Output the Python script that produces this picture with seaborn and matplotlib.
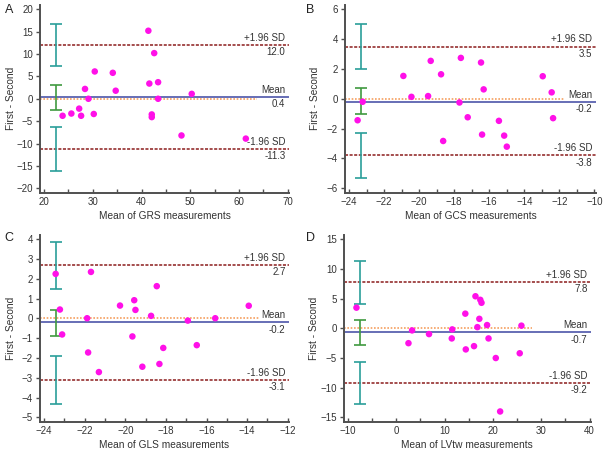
import numpy as np
import pandas as pd
import matplotlib
matplotlib.use("Agg")
import matplotlib.pyplot as plt
import matplotlib.transforms as mtransforms
from matplotlib.ticker import MultipleLocator
import seaborn as sns

sns.set_style("ticks")
plt.rcParams['font.family'] = ['Liberation Sans', 'DejaVu Sans']

# panel A - GRS
grs_mean = [23.8, 25.6, 27.2, 27.6, 28.4, 29.1, 30.2, 30.4, 34.1, 34.7,
            41.4, 41.6, 42.6, 42.1, 42.1, 43.4, 43.4, 48.2, 50.3, 61.4]
grs_diff = [-3.8, -3.3, -2.2, -3.8, 2.2, 0.0, -3.4, 6.1, 5.8, 1.8,
            15.2, 3.4, 10.2, -3.5, -4.1, 3.7, 0.0, -8.2, 1.1, -8.9]
grs_stats = [0.4, 12.0, -11.3]
grs_ci = [(7.3, 16.8), (-2.4, 3.1), (-16.1, -6.4)]

# panel B - GCS
gcs_mean = [-23.51, -23.22, -20.90, -20.44, -19.49, -19.34, -18.75, -18.63, -17.70, -17.62,
            -17.23, -16.47, -16.41, -16.32, -15.45, -15.15, -15.00, -12.95, -12.44, -12.36]
gcs_diff = [-1.44, -0.20, 1.53, 0.13, 0.18, 2.54, 1.64, -2.83, -0.25, 2.74,
            -1.24, 2.43, -2.40, 0.63, -1.48, -2.47, -3.21, 1.51, 0.43, -1.30]
gcs_stats = [-0.2, 3.5, -3.8]
gcs_ci = [(1.98, 5.01), (-1.03, 0.70), (-5.28, -2.29)]

# panel C - GLS
gls_mean = [-23.43, -23.22, -23.11, -21.88, -21.83, -21.69, -21.30, -20.26, -19.65, -19.56,
            -19.50, -19.16, -18.73, -18.45, -18.32, -18.13, -16.92, -16.48, -15.57, -13.92]
gls_diff = [2.25, 0.45, -0.81, 0.01, -1.72, 2.35, -2.71, 0.65, -0.91, 0.92,
            0.43, -2.44, 0.13, 1.63, -2.30, -1.49, -0.11, -1.35, 0.01, 0.64]
gls_stats = [-0.2, 2.7, -3.1]
gls_ci = [(1.48, 3.88), (-0.91, 0.45), (-4.33, -1.92)]

# panel D - LVtw
lvtw_mean = [-8.2, 2.55, 3.3, 6.8, 11.6, 11.5, 14.3, 14.4, 16.1, 16.4,
             16.8, 17.2, 17.4, 17.65, 18.8, 19.1, 20.6, 21.5, 25.55, 25.9]
lvtw_diff = [3.48, -2.5, -0.35, -0.97, -0.18, -1.7, 2.47, -3.55, -3.0, 5.4,
             0.2, 1.6, 4.8, 4.3, 0.55, -1.7, -5.0, -14.0, -4.2, 0.45]
lvtw_stats = [-0.7, 7.8, -9.2]
lvtw_ci = [(4.16, 11.35), (-2.75, 1.40), (-12.75, -5.62)]

panels = [
    ("A", "GRS", grs_mean, grs_diff, grs_stats, grs_ci, (20, 70, 10), (-20, 20, 5)),
    ("B", "GCS", gcs_mean, gcs_diff, gcs_stats, gcs_ci, (-24, -10, 2), (-6, 6, 2)),
    ("C", "GLS", gls_mean, gls_diff, gls_stats, gls_ci, (-24, -12, 2), (-5, 4, 1)),
    ("D", "LVtw", lvtw_mean, lvtw_diff, lvtw_stats, lvtw_ci, (-10, 40, 10), (-15, 15, 5)),
]

positions = [
    [0.066, 0.573, 0.412, 0.416],
    [0.570, 0.573, 0.415, 0.416],
    [0.066, 0.065, 0.412, 0.414],
    [0.568, 0.065, 0.409, 0.414],
]
label_pos = [(0.008, 0.992), (0.505, 0.992), (0.008, 0.485), (0.505, 0.485)]

spine_col = "#505050"
text_col = "#333333"

fig = plt.figure(figsize=(6.05, 4.51), dpi=100)

for (letter, name, mx, dy, stats, ci, xr, yr), pos, lp in zip(panels, positions, label_pos):
    ax = fig.add_axes(pos)
    xmin, xmax, xstep = xr
    ymin, ymax, ystep = yr
    xrange_ = xmax - xmin
    yrange_ = ymax - ymin
    ax.set_xlim(xmin - 0.017 * xrange_, xmax + 0.006 * xrange_)
    ax.set_ylim(ymin - 0.024 * yrange_, ymax + 0.024 * yrange_)

    mean_d, hi, lo = stats
    x0 = ax.get_xlim()[0]
    zero_end = max(mx) + 0.045 * xrange_
    ax.plot([x0, zero_end], [0, 0], color="#f5a060", lw=1.2, ls=(0, (1, 1)), zorder=1)
    ax.axhline(mean_d, color="#5a62b0", lw=1.3, zorder=2)
    ax.axhline(hi, color="#8b1c1c", lw=1.1, ls=(0, (2, 1)), zorder=2)
    ax.axhline(lo, color="#8b1c1c", lw=1.1, ls=(0, (2, 1)), zorder=2)

    df = pd.DataFrame({"m": mx, "d": dy})
    sns.scatterplot(data=df, x="m", y="d", ax=ax, color="#ff10e8", s=22,
                    edgecolor="none", zorder=4, legend=False)

    # confidence intervals
    bx = x0 + 0.066 * (ax.get_xlim()[1] - x0)
    ci_cols = ["#2a9e9a", "#3f9a3f", "#2a9e9a"]
    for (c_lo, c_hi), col in zip(ci, ci_cols):
        mid = (c_lo + c_hi) / 2
        ax.errorbar(bx, mid, yerr=[[mid - c_lo], [c_hi - mid]], color=col,
                    lw=1.2, capsize=4, capthick=1.2, fmt="none", zorder=3)

    tr = mtransforms.blended_transform_factory(ax.transAxes, ax.transData)
    off = 0.012 * yrange_
    for val, lab in [(hi, "+1.96 SD"), (mean_d, "Mean"), (lo, "-1.96 SD")]:
        ax.text(0.985, val + off, lab, transform=tr, ha="right", va="bottom",
                fontsize=7, color=text_col)
        ax.text(0.985, val - off, f"{val:.1f}", transform=tr, ha="right", va="top",
                fontsize=7, color=text_col)

    ax.set_xticks(np.arange(xmin, xmax + xstep / 2, xstep))
    ax.set_yticks(np.arange(ymin, ymax + ystep / 2, ystep))
    ax.xaxis.set_minor_locator(MultipleLocator(xstep / 2))
    ax.tick_params(axis="x", which="both", direction="in", length=3, width=1,
                   colors=spine_col, labelcolor=text_col, labelsize=7, pad=3)
    ax.tick_params(axis="y", which="major", direction="out", length=3, width=1,
                   colors=spine_col, labelcolor=text_col, labelsize=7, pad=2)
    sns.despine(ax=ax)
    for s in ["left", "bottom"]:
        ax.spines[s].set_color(spine_col)
        ax.spines[s].set_linewidth(1.4)

    ax.set_xlabel(f"Mean of {name} measurements", fontsize=7.3, color=text_col, labelpad=3)
    ax.set_ylabel("First - Second", fontsize=7.3, color=text_col)
    ax.yaxis.set_label_coords(-0.098, 0.5)
    fig.text(lp[0], lp[1], letter, fontsize=9, color="#222222", ha="left", va="top")

fig.savefig("out.png", dpi=100)
